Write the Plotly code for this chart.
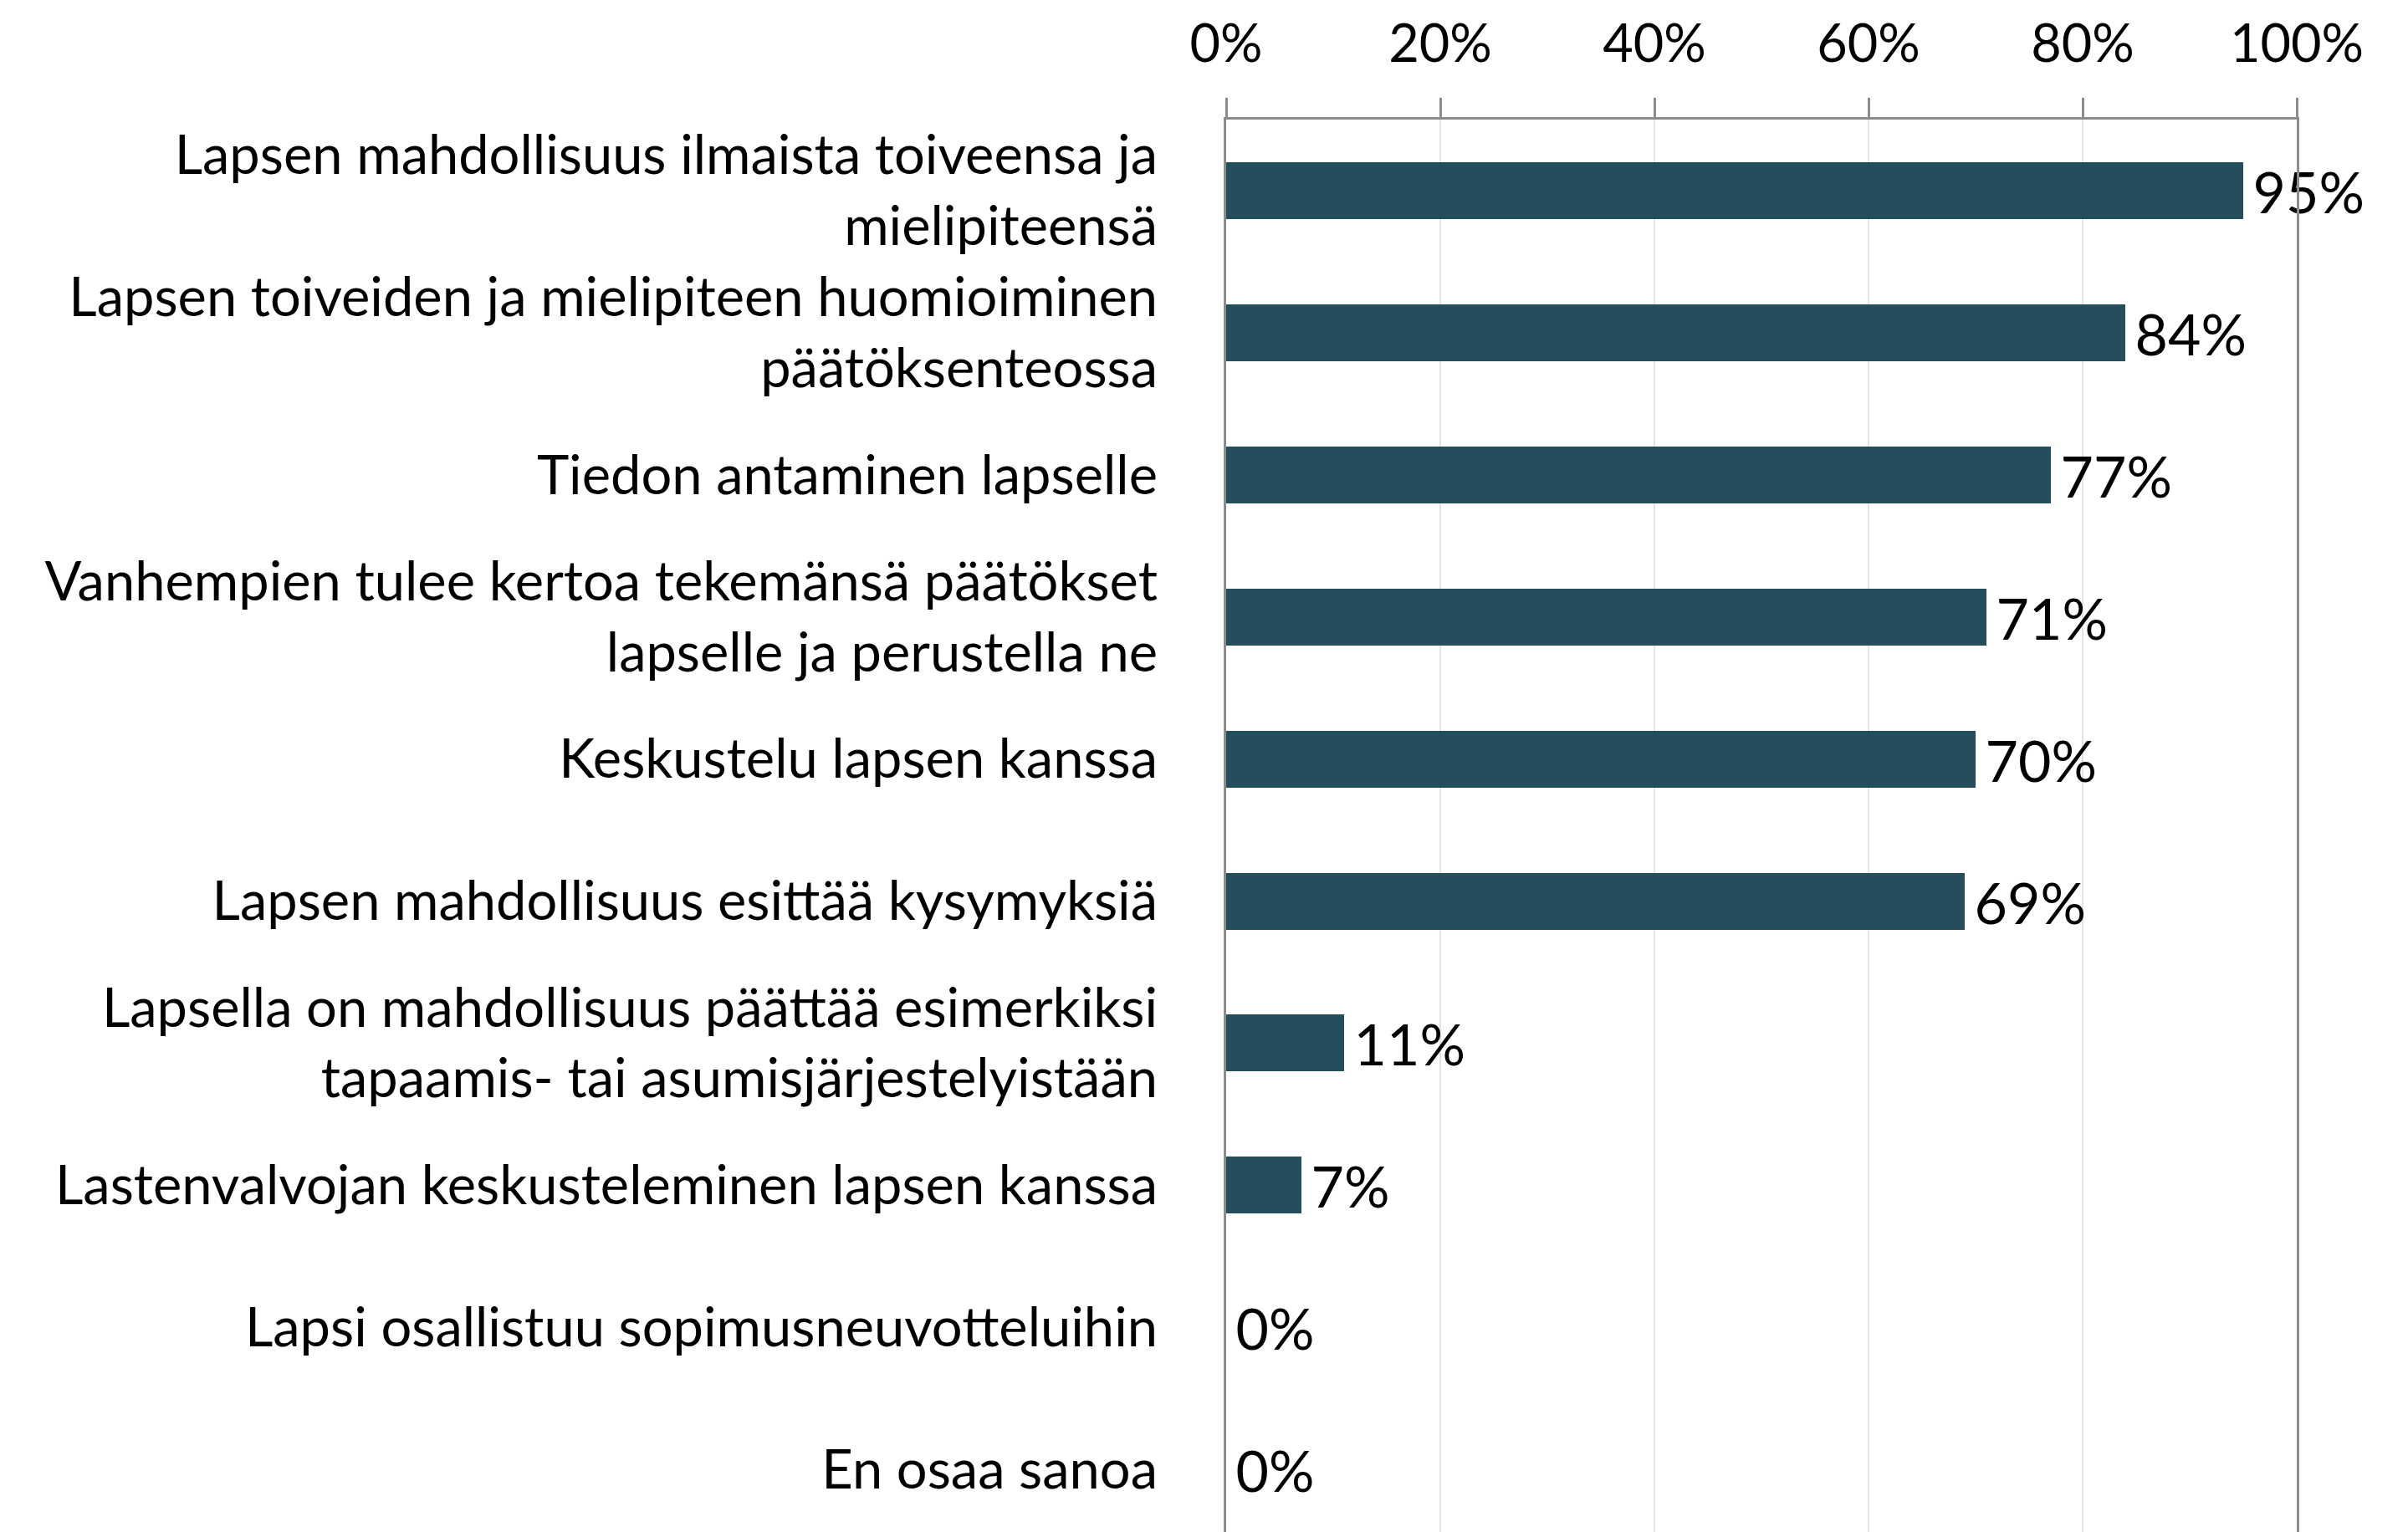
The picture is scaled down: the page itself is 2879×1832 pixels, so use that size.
import plotly.graph_objects as go

categories = [
    "Lapsen mahdollisuus ilmaista toiveensa ja<br>mielipiteensä",
    "Lapsen toiveiden ja mielipiteen huomioiminen<br>päätöksenteossa",
    "Tiedon antaminen lapselle",
    "Vanhempien tulee kertoa tekemänsä päätökset<br>lapselle ja perustella ne",
    "Keskustelu lapsen kanssa",
    "Lapsen mahdollisuus esittää kysymyksiä",
    "Lapsella on mahdollisuus päättää esimerkiksi<br>tapaamis- tai asumisjärjestelyistään",
    "Lastenvalvojan keskusteleminen lapsen kanssa",
    "Lapsi osallistuu sopimusneuvotteluihin",
    "En osaa sanoa",
]
values = [95, 84, 77, 71, 70, 69, 11, 7, 0, 0]
tick_vals = [0, 20, 40, 60, 80, 100]
tick_text = ["0%", "20%", "40%", "60%", "80%", "100%"]

FONT = "Lato"
fig = go.Figure(go.Bar(
    x=values,
    y=categories,
    orientation="h",
    marker=dict(color="#244E5B", line=dict(width=0)),
    width=0.4,
    text=[f"\u2009{v}%" for v in values],
    textposition="outside",
    constraintext="none",
    textfont=dict(family=FONT, size=68, color="#000000"),
    cliponaxis=False,
))

fig.update_layout(
    width=2871,
    height=1824,
    margin=dict(l=1458, r=133, t=135, b=0, autoexpand=False),
    paper_bgcolor="white",
    plot_bgcolor="white",
    showlegend=False,
    font=dict(family=FONT, size=65, color="#000000"),
    bargap=0,
)
fig.update_xaxes(
    side="top",
    range=[0, 100],
    tickvals=tick_vals,
    ticktext=tick_text,
    showgrid=True,
    gridcolor="#E3E3E3",
    gridwidth=2,
    showline=True,
    linecolor="#8C8C8C",
    linewidth=3,
    ticks="outside",
    ticklen=23,
    tickwidth=3,
    tickcolor="#8C8C8C",
    ticklabelstandoff=18,
    tickfont=dict(family=FONT, size=63, color="#000000"),
    zeroline=False,
    automargin=False,
)
fig.update_yaxes(
    type="category",
    categoryorder="array",
    categoryarray=categories,
    range=[9.44, -0.5],
    showgrid=False,
    showline=True,
    mirror=True,
    linecolor="#8C8C8C",
    linewidth=3,
    ticks="",
    ticklabelstandoff=66,
    tickfont=dict(family=FONT, size=65, color="#000000"),
    automargin=False,
)

fig.write_html("out.html")
